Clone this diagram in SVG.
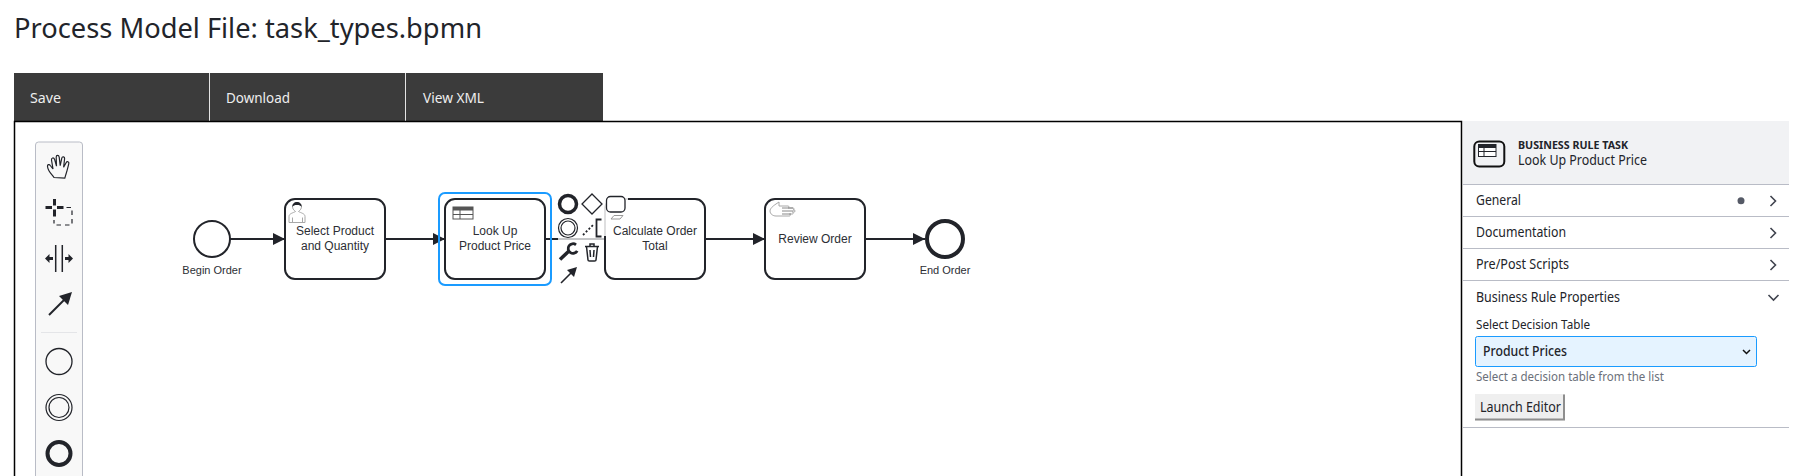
<svg xmlns="http://www.w3.org/2000/svg" width="1809" height="476" viewBox="0 0 1809 476">
<style>
text{font-family:"Noto Sans","Open Sans",sans-serif;fill:#22242a}
.b{font-family:"Liberation Sans",Arial,sans-serif;font-size:12px;text-anchor:middle;fill:#2c2e34}
.l{font-size:11px}
.task{fill:#fff;stroke:#22242a;stroke-width:2}
.flow{fill:none;stroke:#22242a;stroke-width:2}
.ic{fill:none;stroke:#22242a;stroke-width:1.200}
.rule{stroke:#b9bcc6;stroke-width:1}
.chev{fill:none;stroke:#40444f;stroke-width:1.600}
.bar{fill:#eee;font-size:15px}
.p{font-size:14px}
</style>
<defs>
<marker id="head" markerUnits="userSpaceOnUse" markerWidth="14" markerHeight="14" refX="12" refY="7" orient="auto"><path d="M0 1L12 7L0 13Z" fill="#22242a"/></marker>
</defs>
<rect width="1809" height="476" fill="#fff"/>
<text id="title" x="14" y="38" font-size="28" textLength="468" lengthAdjust="spacingAndGlyphs">Process Model File: task_types.bpmn</text>
<g id="menu">
<rect x="14" y="73" width="589" height="48" fill="#3b3b3b"/>
<path d="M209.500 73V121M405.500 73V121" stroke="#e4e4e4" stroke-width="1"/>
<text class="bar" x="30" y="103" textLength="31" lengthAdjust="spacingAndGlyphs">Save</text>
<text class="bar" x="226" y="103" textLength="64" lengthAdjust="spacingAndGlyphs">Download</text>
<text class="bar" x="423" y="103" textLength="61" lengthAdjust="spacingAndGlyphs">View XML</text>
</g>
<path id="frame" d="M14.500 476V121.500H1461.500V476" fill="none" stroke="#000" stroke-width="1.500"/>
<g id="palette">
<path d="M35.500 476V145a3 3 0 0 1 3-3H79.500a3 3 0 0 1 3 3V476" fill="#f8f8f8" stroke="#b9bcc6"/>
<g id="tool-hand"><path class="ic" d="M54 177.500c-2-3-6-6-6.500-11-.3-2 1.800-2.500 2.800-1l2.700 3.500-1.500-9c-.3-2.300 2.200-2.800 3-.8l2 7-.3-9c0-2.300 2.600-2.300 3 0l1 8.500 1.600-7.500c.5-2.200 3-1.700 2.800.5l-1 8.500 2.500-4.500c1-1.800 3.200-1 2.700 1-1 4-1.800 7.500-3 11l-1 3.500z"/></g>
<g id="tool-lasso"><path d="M54.500 199v6.500M54.500 209.500v7M45.500 207.500h6.500M57 207.500h6.500" stroke="#22242a" stroke-width="3" fill="none"/><path d="M66.500 207.500h5.500V225H54v-5" fill="none" stroke="#22242a" stroke-width="1.200" stroke-dasharray="4.500 4"/></g>
<g id="tool-space"><path d="M55.700 245v27M62.300 245v27" stroke="#22242a" stroke-width="1.500"/><path d="M45 258.500l4.500-4.500v3h3.500v3h-3.500v3zM73 258.500l-4.500-4.500v3h-3.500v3h3.500v3z" fill="#22242a"/></g>
<g id="tool-connect"><path d="M49 315L65 299" stroke="#22242a" stroke-width="2"/><path d="M72 292L68 305L59 296Z" fill="#22242a"/></g>
<path d="M41 332.500H77" stroke="#e4e5e8"/>
<circle cx="59" cy="361.500" r="13" fill="none" stroke="#22242a" stroke-width="1.300"/>
<circle cx="59" cy="407.500" r="13" fill="none" stroke="#22242a" stroke-width="1.200"/><circle cx="59" cy="407.500" r="10" fill="none" stroke="#22242a" stroke-width="1.200"/>
<circle cx="59" cy="453.500" r="11.500" fill="none" stroke="#22242a" stroke-width="4"/>
</g>
<g id="connectors">
<path class="flow" d="M230 239H285" marker-end="url(#head)"/>
<path class="flow" d="M385 239H445" marker-end="url(#head)"/>
<path class="flow" d="M546 239H558"/>
<path d="M558 239H605" stroke="#8a8c90" stroke-width="1" fill="none"/>
<path class="flow" d="M705 239H765" marker-end="url(#head)"/>
<path class="flow" d="M865 239H925" marker-end="url(#head)"/>
</g>
<g id="begin-order">
<circle cx="212" cy="239" r="18" fill="#fff" stroke="#22242a" stroke-width="2"/>
<text class="b l" x="212" y="274">Begin Order</text>
</g>
<g id="select-product">
<rect class="task" x="285" y="199" width="100" height="80" rx="10"/>
<path d="M289 222.500v-6c0-3 4-3.500 6.500-5 -2-1.500-3-3-3-5 0-2.500 2-4 4.500-4s4.500 1.500 4.500 4c0 2-1 3.500-3 5 2.500 1.500 6.500 2 6.500 5v6z M292.500 222.500v-5M302.500 222.500v-5" fill="#fff" stroke="#a8a8a8" stroke-width="1"/>
<path d="M292.500 207c-.5-3 2-5 4.500-5s5 2 4.500 5c-1-1.500-2-2-4.500-2s-3.500.5-4.500 2z" fill="#22242a"/>
<text class="b" x="335" y="235">Select Product</text><text class="b" x="335" y="250">and Quantity</text>
</g>
<g id="look-up">
<rect x="439" y="193" width="112" height="92" rx="6" fill="none" stroke="#1a9bff" stroke-width="2"/>
<rect class="task" x="445" y="199" width="100" height="80" rx="10"/>
<rect x="453" y="207" width="20" height="12" fill="#fff" stroke="#555" stroke-width="1"/>
<rect x="453" y="207" width="20" height="3.500" fill="#555"/>
<path d="M453 214.500h20M460 210v9" stroke="#555" stroke-width="1"/>
<text class="b" x="495" y="235">Look Up</text><text class="b" x="495" y="250">Product Price</text>
</g>
<g id="calculate">
<rect class="task" x="605" y="199" width="100" height="80" rx="10"/>
<rect x="603" y="194" width="25" height="42" fill="#fff" fill-opacity=".85"/>
<text class="b" x="655" y="235">Calculate Order</text><text class="b" x="655" y="250">Total</text>
</g>
<g id="review-order">
<rect class="task" x="765" y="199" width="100" height="80" rx="10"/>
<path d="M770 211c0-2.500 3-5 6-7l3-2v4h9c1.500 0 1.500 2 0 2h5c1.500 0 1.500 2 0 2h1c1.500 0 1.500 2 0 2h-1.500c1 0 1 2 0 2h-3c1 0 1 2 0 2H776c-3 0-6-2-6-5z" fill="#fff" stroke="#a8a8a8" stroke-width="1"/>
<path d="M782 208h11M782 211h11M782 214h9" stroke="#888" stroke-width="1"/>
<text class="b" x="815" y="243">Review Order</text>
</g>
<g id="end-order">
<circle cx="945" cy="239" r="18" fill="#fff" stroke="#22242a" stroke-width="4"/>
<text class="b l" x="945" y="274">End Order</text>
</g>
<g id="context-pad">
<circle cx="568" cy="204" r="8.500" fill="#fff" stroke="#22242a" stroke-width="3.500"/>
<path d="M592 194L602 204L592 214L582 204Z" fill="#fff" stroke="#22242a" stroke-width="1.300"/>
<rect x="606.500" y="196.500" width="18.500" height="15.500" rx="4" fill="#fff" stroke="#22242a" stroke-width="1.300"/>
<path d="M611 219l3-3.500h9l-3 3.500z" fill="#fff" stroke="#999" stroke-width="1"/>
<circle cx="568" cy="228" r="9.500" fill="#fff" stroke="#22242a" stroke-width="1.200"/><circle cx="568" cy="228" r="7" fill="none" stroke="#22242a" stroke-width="1.200"/>
<path d="M583 235L594 224" stroke="#22242a" stroke-width="1.800" stroke-dasharray="2 2"/>
<path d="M601.500 219.500H596.500V236.500H601.500" fill="none" stroke="#22242a" stroke-width="1.800"/>
<path d="M560 259.500L569.500 250.500" stroke="#22242a" stroke-width="3.500"/><path d="M576 244.800a4.800 4.800 0 1 0 1.200 6" fill="none" stroke="#22242a" stroke-width="2.800"/>
<path d="M585 246.500H599M590 246.500v-2.500h4v2.500M586.500 246.500l1.500 13.500c0 .8.700 1 1.500 1h5c.8 0 1.500-.2 1.500-1l1.500-13.500M590 250l.5 7M594 250l-.5 7" fill="none" stroke="#22242a" stroke-width="1.500"/>
<path d="M561 283L572 272" stroke="#22242a" stroke-width="1.600"/><path d="M577 267L574 277L567 270Z" fill="#22242a"/>
</g>
<g id="properties-panel">
<rect x="1463" y="121" width="326" height="63" fill="#f1f2f4"/>
<rect x="1474.300" y="141.500" width="30" height="25" rx="5" fill="none" stroke="#111" stroke-width="2"/>
<rect x="1478.500" y="144.500" width="17.500" height="12" fill="#fff" stroke="#22242a"/><rect x="1478.500" y="144.500" width="17.500" height="3.500" fill="#22242a"/>
<path d="M1478.500 151.500h17.500M1484 148v8" stroke="#22242a"/>
<text x="1518" y="149" font-size="11" font-weight="700" textLength="110" lengthAdjust="spacingAndGlyphs">BUSINESS RULE TASK</text>
<text x="1518" y="165" font-size="14" textLength="129" lengthAdjust="spacingAndGlyphs">Look Up Product Price</text>
<path class="rule" d="M1463 184.500H1789M1463 216.500H1789M1463 248.500H1789M1463 280.500H1789M1463 427.500H1789"/>
<text class="p" x="1476" y="205" textLength="45" lengthAdjust="spacingAndGlyphs">General</text>
<circle cx="1741" cy="200.700" r="3.500" fill="#555a66"/><path class="chev" d="M1770.500 196l5 5-5 5"/>
<text class="p" x="1476" y="237" textLength="90" lengthAdjust="spacingAndGlyphs">Documentation</text><path class="chev" d="M1770.500 228l5 5-5 5"/>
<text class="p" x="1476" y="269" textLength="93" lengthAdjust="spacingAndGlyphs">Pre/Post Scripts</text><path class="chev" d="M1770.500 260l5 5-5 5"/>
<text class="p" x="1476" y="302" textLength="144" lengthAdjust="spacingAndGlyphs">Business Rule Properties</text><path class="chev" d="M1768.500 295l5 5 5-5"/>
<text x="1476" y="329" font-size="13" textLength="114" lengthAdjust="spacingAndGlyphs">Select Decision Table</text>
<rect x="1475.500" y="336.500" width="281" height="30" rx="2" fill="#e5f3ff" stroke="#1a9bff"/>
<text x="1483" y="356" font-size="14" font-weight="500" textLength="84" lengthAdjust="spacingAndGlyphs">Product Prices</text>
<path d="M1743 350l3.500 3.500 3.500-3.500" fill="none" stroke="#111" stroke-width="1.500"/>
<text x="1476" y="381" font-size="13" style="fill:#6b707a" textLength="188" lengthAdjust="spacingAndGlyphs">Select a decision table from the list</text>
<rect x="1475" y="394" width="90" height="26.500" fill="#efefef"/>
<path d="M1564 394.500V419.500H1475" fill="none" stroke="#8e8e8e" stroke-width="2"/>
<text x="1480" y="411.500" font-size="14" textLength="81" lengthAdjust="spacingAndGlyphs">Launch Editor</text>
</g>
</svg>
